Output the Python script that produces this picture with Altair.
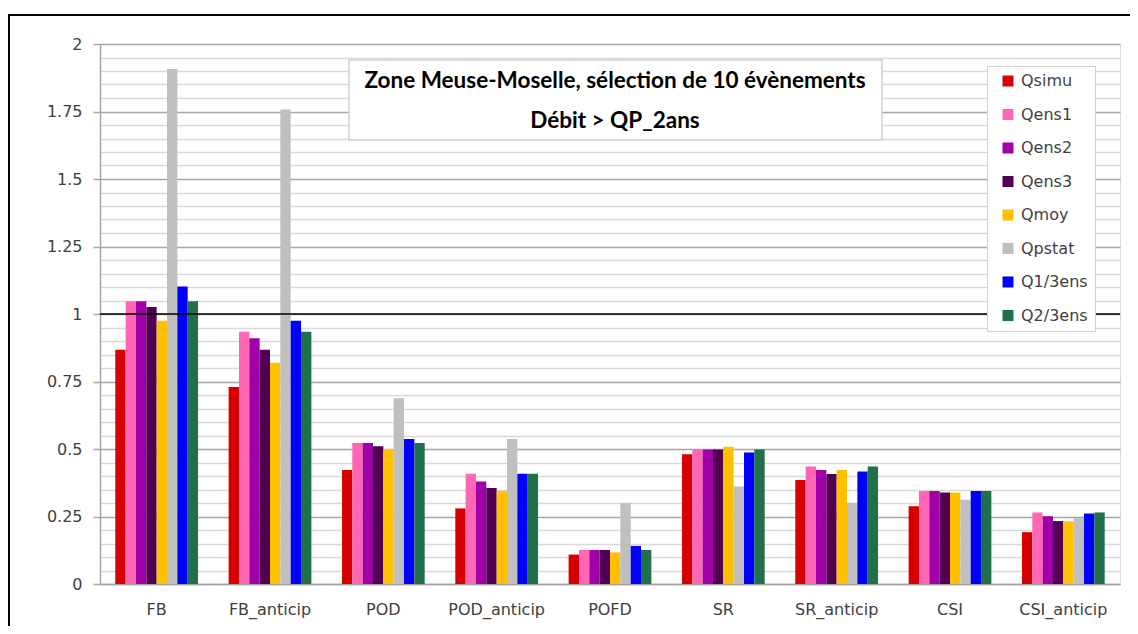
import altair as alt
import pandas as pd

metrics = ["FB", "FB_anticip", "POD", "POD_anticip", "POFD", "SR", "SR_anticip", "CSI", "CSI_anticip"]
series = ["Qsimu", "Qens1", "Qens2", "Qens3", "Qmoy", "Qpstat", "Q1/3ens", "Q2/3ens"]
colors = ["#D60000", "#FF66B3", "#A000A8", "#520052", "#FFC000", "#BFBFBF", "#0000FF", "#21704A"]

Qsimu = [0.868, 0.730, 0.422, 0.280, 0.109, 0.481, 0.385, 0.288, 0.192]
Qens1 = [1.047, 0.934, 0.522, 0.408, 0.126, 0.498, 0.435, 0.344, 0.265]
Qens2 = [1.047, 0.910, 0.522, 0.380, 0.126, 0.498, 0.422, 0.344, 0.251]
Qens3 = [1.026, 0.868, 0.510, 0.356, 0.126, 0.498, 0.407, 0.339, 0.233]
Qmoy = [0.975, 0.819, 0.500, 0.344, 0.117, 0.508, 0.422, 0.339, 0.232]
Qpstat = [1.907, 1.757, 0.688, 0.537, 0.299, 0.361, 0.300, 0.312, 0.244]
Q13ens = [1.102, 0.975, 0.537, 0.408, 0.141, 0.487, 0.417, 0.344, 0.261]
Q23ens = [1.047, 0.934, 0.522, 0.408, 0.126, 0.498, 0.435, 0.344, 0.265]

title_lines = ["Zone Meuse-Moselle, sélection de 10 évènements", "Débit > QP_2ans"]
y_ticks = [round(0.05 * i, 2) for i in range(41)]

all_series = [Qsimu, Qens1, Qens2, Qens3, Qmoy, Qpstat, Q13ens, Q23ens]
rows = []
for name, vals in zip(series, all_series):
    for m, v in zip(metrics, vals):
        rows.append({"metric": m, "series": name, "value": v})
df = pd.DataFrame(rows)

W, H = 1020, 540
major = "abs(datum.value*4 - round(datum.value*4)) < 0.001"
FONT = "DejaVu Sans"

bars = alt.Chart(df).mark_bar().encode(
    x=alt.X("metric:N", sort=metrics, title=None,
            scale=alt.Scale(paddingInner=0.27, paddingOuter=0.135),
            axis=alt.Axis(labelAngle=0, ticks=False, labelFontSize=16, labelFont=FONT,
                          labelColor="#404040", labelPadding=17, domainColor="#a6a6a6",
                          domainWidth=1.5)),
    xOffset=alt.XOffset("series:N", sort=series,
                        scale=alt.Scale(paddingInner=0, paddingOuter=0)),
    y=alt.Y("value:Q", title=None, scale=alt.Scale(domain=[0, 2], nice=False),
            axis=alt.Axis(values=y_ticks, tickCount=100, labelOverlap=False, grid=True,
                          gridColor={"condition": {"test": major, "value": "#a6a6a6"}, "value": "#d9d9d9"},
                          gridWidth=1.6,
                          tickColor={"condition": {"test": major, "value": "#a6a6a6"}, "value": "transparent"},
                          tickSize=7, tickWidth=1.5, labelPadding=11,
                          labelExpr=f"({major}) ? toString(round(datum.value*100)/100) : ''",
                          labelFontSize=16, labelFont=FONT, labelColor="#404040",
                          domainColor="#a6a6a6", domainWidth=1.5)),
    color=alt.Color("series:N", sort=series,
                    scale=alt.Scale(domain=series, range=colors),
                    legend=alt.Legend(title=None, orient="none", legendX=887, legendY=22,
                                      fillColor="white", strokeColor="#d0d0d0", padding=7,
                                      symbolType="square", symbolSize=121, symbolStrokeWidth=0,
                                      symbolOffset=6, labelOffset=5, rowPadding=17.5,
                                      labelFontSize=16, labelFont=FONT, labelColor="#404040")),
)

one = pd.DataFrame({"k": [0]})

frame = alt.Chart(one).mark_rect(fill="transparent", stroke="black", strokeWidth=2, clip=False).encode(
    x=alt.value(-91), x2=alt.value(1060), y=alt.value(-29), y2=alt.value(640)
)

ref = alt.Chart(one).mark_rule(color="black", strokeWidth=1.5).encode(y=alt.datum(1))

box = alt.Chart(one).mark_rect(fill="white", stroke="#d0d0d0", strokeWidth=1.5).encode(
    x=alt.value(249), x2=alt.value(782), y=alt.value(16), y2=alt.value(96)
)

tdf = pd.DataFrame({"t": title_lines, "yy": [44.3, 84.3]})
ttext = alt.Chart(tdf).mark_text(font="Lato", fontWeight="bold", fontSize=22.5, color="black",
                                 align="center", baseline="alphabetic").encode(
    text="t:N", x=alt.value(515), y=alt.Y("yy:Q", scale=None)
)

chart = alt.layer(frame, bars, ref, box, ttext).properties(
    width=W, height=H, autosize="none",
    padding={"left": 92, "top": 36, "right": 10, "bottom": 42},
).configure_view(stroke=None).configure(background="white")

chart.save("out.html", embed_options={"renderer": "svg", "actions": False})
